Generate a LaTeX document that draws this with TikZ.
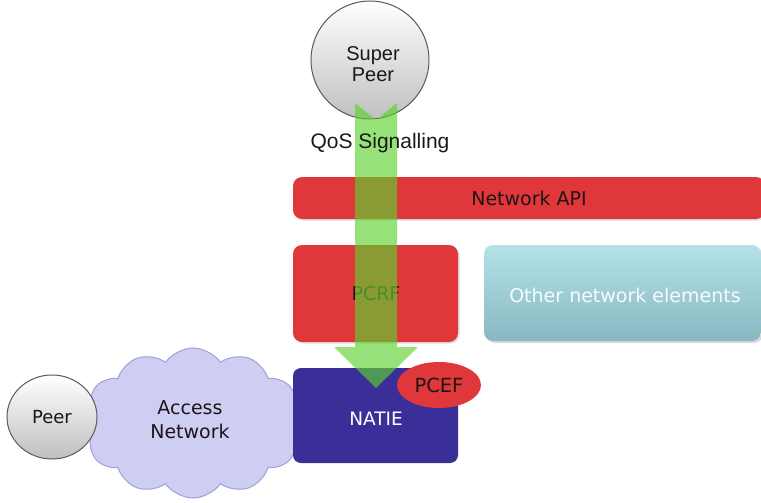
\documentclass[tikz,border=0pt]{standalone}
\usepackage{fontspec}
\setmainfont{Liberation Sans}
\newfontfamily\boxfont{DejaVu Sans}
\usetikzlibrary{shapes.symbols,shapes.geometric,shadows}

\definecolor{apired}{RGB}{224,56,58}
\definecolor{natieblue}{RGB}{58,46,152}
\definecolor{cloudfill}{RGB}{206,206,243}
\definecolor{cloudline}{RGB}{160,160,215}
\definecolor{othertop}{RGB}{180,226,232}
\definecolor{otherbottom}{RGB}{138,184,194}
\definecolor{flowgreen}{RGB}{94,209,48}
\definecolor{labeldark}{RGB}{30,20,20}

\tikzset{
  boxlabel/.style={font=\boxfont\fontsize{19}{23}\selectfont, text=labeldark},
  redbox/.style={rectangle, rounded corners=9pt, fill=apired, draw=none,
    drop shadow={opacity=0.25, shadow xshift=1.5pt, shadow yshift=-1.5pt}},
  peerball/.style={top color=white, bottom color=black!25, draw=black!65, line width=1pt},
}

\begin{document}
\begin{tikzpicture}[x=1pt,y=-1pt]
\clip (0,0) rectangle (761,503);
\useasboundingbox (0,0) rectangle (761,503);

% access network cloud, behind the peer and the NATIE box
\node[cloud, cloud puffs=12, cloud puff arc=110, aspect=1.45,
      minimum width=222, minimum height=150, fill=cloudfill, draw=cloudline,
      line width=1pt] (access) at (193,423) {};
\node[boxlabel, align=center, font=\boxfont\fontsize{19}{24}\selectfont]
      (accesstext) at (190,420) {Access\\Network};

% peer
\node[ellipse, peerball, minimum width=90, minimum height=84, inner sep=0pt,
      boxlabel, font=\boxfont\fontsize{18}{22}\selectfont] (peer) at (52,417) {Peer};

% NATIE box with PCEF
\node[rectangle, rounded corners=8pt, fill=natieblue, minimum width=165,
      minimum height=95, inner sep=0pt] (natie) at (375.5,415.5) {};
\node[boxlabel, text=white, font=\boxfont\fontsize{18.5}{22}\selectfont]
      (natietext) at (376,419) {NATIE};
\node[ellipse, fill=apired, minimum width=84, minimum height=46, inner sep=0pt,
      boxlabel, font=\boxfont\fontsize{19.5}{23}\selectfont] (pcef) at (439,385) {PCEF};

% network API bar
\node[redbox, minimum width=472, minimum height=42, inner sep=0pt, boxlabel]
      (api) at (529,198) {Network API};

% PCRF box
\node[redbox, minimum width=165, minimum height=97, inner sep=0pt] (pcrf) at (375.5,293.5) {};
\node[boxlabel] (pcrftext) at (376,294) {PCRF};

% other network elements
\node[rectangle, rounded corners=9pt, top color=othertop, bottom color=otherbottom,
      minimum width=277, minimum height=96, inner sep=0pt,
      drop shadow={opacity=0.3, shadow xshift=2pt, shadow yshift=-2pt}] (other) at (622.5,293) {};
\node[boxlabel, text=white!96!cyan] (othertext) at (625,295) {Other network elements};

% super peer
\node[circle, peerball, minimum size=118, inner sep=0pt] (super) at (370,60) {};
\node[align=center, font=\fontsize{20}{21.5}\selectfont, text=black!90] (supertext) at (373,64) {Super\\Peer};

% QoS signalling flow from the super peer down to the NATIE
\path[fill=flowgreen, fill opacity=0.65]
  (355,103) -- (376,120) -- (397,103) -- (397,347) -- (418,347)
  -- (376,388) -- (334,347) -- (355,347) -- cycle;

\node[font=\fontsize{21}{24}\selectfont, text=black!90] (qos) at (380,143) {QoS Signalling};
\end{tikzpicture}
\end{document}
